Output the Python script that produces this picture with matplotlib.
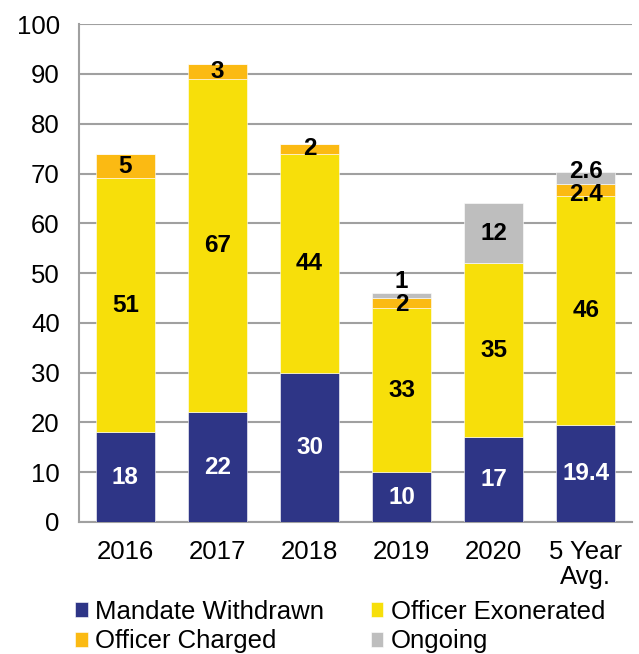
import numpy as np
import matplotlib
matplotlib.use('Agg')
import matplotlib.pyplot as plt

plt.rcParams['font.family'] = ['Liberation Sans', 'DejaVu Sans']

categories = ['2016', '2017', '2018', '2019', '2020', '5 Year\nAvg.']
mandate_withdrawn = [18, 22, 30, 10, 17, 19.4]
officer_exonerated = [51, 67, 44, 33, 35, 46]
officer_charged = [5, 3, 2, 2, 0, 2.4]
ongoing = [0, 0, 0, 1, 12, 2.6]

series = [
    ('Mandate Withdrawn', mandate_withdrawn, '#2E3586', 'white'),
    ('Officer Exonerated', officer_exonerated, '#F7DF0A', 'black'),
    ('Officer Charged', officer_charged, '#FBBA13', 'black'),
    ('Ongoing', ongoing, '#BEBEBE', 'black'),
]

# small nudges for labels on thin segments (series, bar index) -> offset in data units
nudge = {('Ongoing', 3): 2.9, ('Officer Charged', 3): -0.3,
         ('Ongoing', 5): 1.3, ('Officer Charged', 5): -0.9}

fig = plt.figure(figsize=(6.39, 6.54), dpi=100)
ax = fig.add_axes([0.124, 0.202, 0.865, 0.761])

x = np.arange(len(categories))
bottom = np.zeros(len(categories))
handles = {}
for name, vals, color, txtcol in series:
    vals = np.array(vals, dtype=float)
    b = ax.bar(x, vals, 0.64, bottom=bottom, color=color, edgecolor='white',
               linewidth=0.4, zorder=3, label=name)
    handles[name] = b
    for i, v in enumerate(vals):
        if v <= 0:
            continue
        y = bottom[i] + v / 2 + nudge.get((name, i), 0)
        ax.text(x[i], y, '%g' % v, ha='center', va='center', color=txtcol,
                fontsize=17.5, fontweight='bold', zorder=4)
    bottom += vals

ax.set_xlim(-0.5, len(categories) - 0.5)
ax.set_ylim(0, 100)
ax.set_yticks(np.arange(0, 101, 10))
ax.set_xticks(x)
ax.set_xticklabels(categories, fontsize=18.5, linespacing=1.05)
ax.tick_params(axis='y', labelsize=18.5, length=0, pad=14)
ax.tick_params(axis='x', length=0, pad=13)
ax.grid(axis='y', color='#A0A0A0', linewidth=1.5, zorder=0)
for s in ['top', 'right']:
    ax.spines[s].set_visible(False)
for s in ['left', 'bottom']:
    ax.spines[s].set_color('#A0A0A0')
    ax.spines[s].set_linewidth(1.5)

# column-first fill, so order gives rows: MW | OE, OC | Ongoing
order = ['Mandate Withdrawn', 'Officer Charged', 'Officer Exonerated', 'Ongoing']
fig.legend(handles=[handles[k] for k in order], labels=order,
           loc='upper left', bbox_to_anchor=(0.117, 0.083),
           ncol=2, frameon=False, fontsize=18.5, handlelength=0.5,
           handleheight=0.5, handletextpad=0.3, columnspacing=1.8,
           labelspacing=0.22, borderaxespad=0, borderpad=0)

fig.savefig('out.png', dpi=100)
